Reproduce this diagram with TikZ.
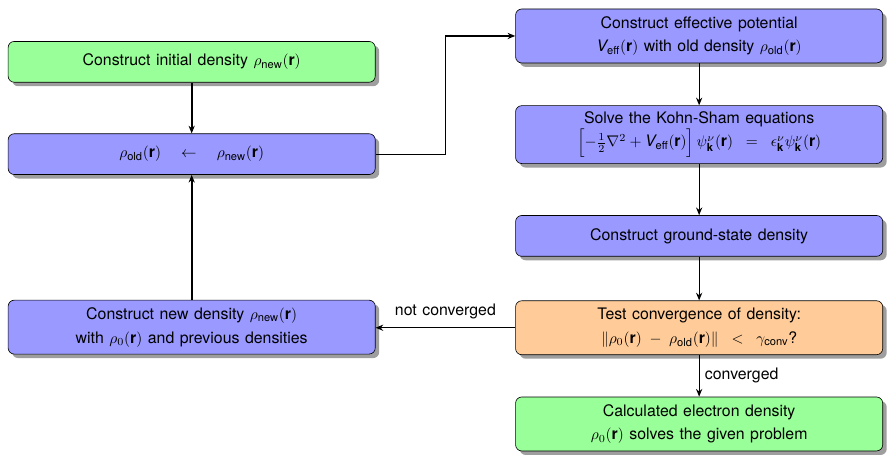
\documentclass[tikz,border=0pt]{standalone}
\usepackage{amsmath,amssymb}
\usepackage{fontspec}
\setmainfont[WordSpace=1.25]{TeX Gyre Heros}
\usepackage{tikz}
\usetikzlibrary{arrows.meta,positioning,shadows}
\usepackage{xcolor}
\definecolor{lightgreen}{RGB}{153,255,153}
\definecolor{lightblue}{RGB}{153,153,255}
\definecolor{lightorange}{RGB}{255,204,153}

\newcommand{\rv}{\textbf{r}}
\newcommand{\rhonew}{\rho_{\text{new}}(\rv)}
\newcommand{\rhoold}{\rho_{\text{old}}(\rv)}

\begin{document}
\begin{tikzpicture}[
    font=\fontsize{10.3pt}{12.5pt}\selectfont,
    box/.style={rectangle, draw, rounded corners, minimum width=8.37cm, minimum height=0.93cm, align=center,
        drop shadow={shadow xshift=2.6pt, shadow yshift=-2.6pt, fill=black!38, opacity=1}},
    greenbox/.style={box, fill=lightgreen},
    bluebox/.style={box, fill=lightblue},
    orangebox/.style={box, fill=lightorange},
    line/.style={-{Stealth[length=5pt,width=4pt]}, thick},
    thickline/.style={line, line width=1.4pt}
]
    \useasboundingbox (0,0) rectangle (20.36,-10.62);

    % left column
    \node[greenbox] (init) at (4.37,-1.41) {Construct initial density $\rhonew$};
    \node[bluebox, below=1.16cm of init] (old) {$\rhoold \quad\leftarrow\quad \rhonew$};
    \node[bluebox, below=2.85cm of old, minimum height=1.23cm] (new)
        {Construct new density $\rhonew$\\[3pt] with $\rho_0(\rv)$ and previous densities};

    % right column
    \node[bluebox, minimum height=1.23cm] (eff) at (15.94,-0.82)
        {Construct effective potential\\[3pt] $\textit{V}_{\text{eff}}(\rv)$ with old density $\rhoold$};
    \node[bluebox, below=0.96cm of eff, minimum height=1.32cm] (ks)
        {Solve the Kohn-Sham equations\\
        $\Big[{-}\tfrac{1}{2}\nabla^2 + \textit{V}_{\text{eff}}(\rv)\Big]\,\psi^{\nu}_{\textbf{k}}(\rv) \;\;=\;\; \epsilon^{\nu}_{\textbf{k}}\psi^{\nu}_{\textbf{k}}(\rv)$};
    \node[bluebox, below=1.17cm of ks] (ground) {Construct ground-state density};
    \node[orangebox, below=1.0cm of ground, minimum height=1.23cm] (test)
        {Test convergence of density:\\[3pt] $\|\rho_0(\rv) \;-\; \rhoold\| \;\;<\;\; \gamma_{\text{conv}}$?};
    \node[greenbox, below=0.95cm of test, minimum height=1.23cm] (calc)
        {Calculated electron density\\[3pt] $\rho_0(\rv)$ solves the given problem};

    \draw[thickline] (init) -- (old);
    \draw[thickline] (new) -- (old);
    \draw[line] (old.east) -- ++(1.6cm,0) |- (eff.west);
    \draw[line] (eff) -- (ks);
    \draw[line] (ks) -- (ground);
    \draw[line] (ground) -- (test);
    \draw[line] (test) -- node[right] {converged} (calc);
    \draw[line] (test.west) -- node[above=2pt] {not converged} (new.east |- test.west);
\end{tikzpicture}
\end{document}
